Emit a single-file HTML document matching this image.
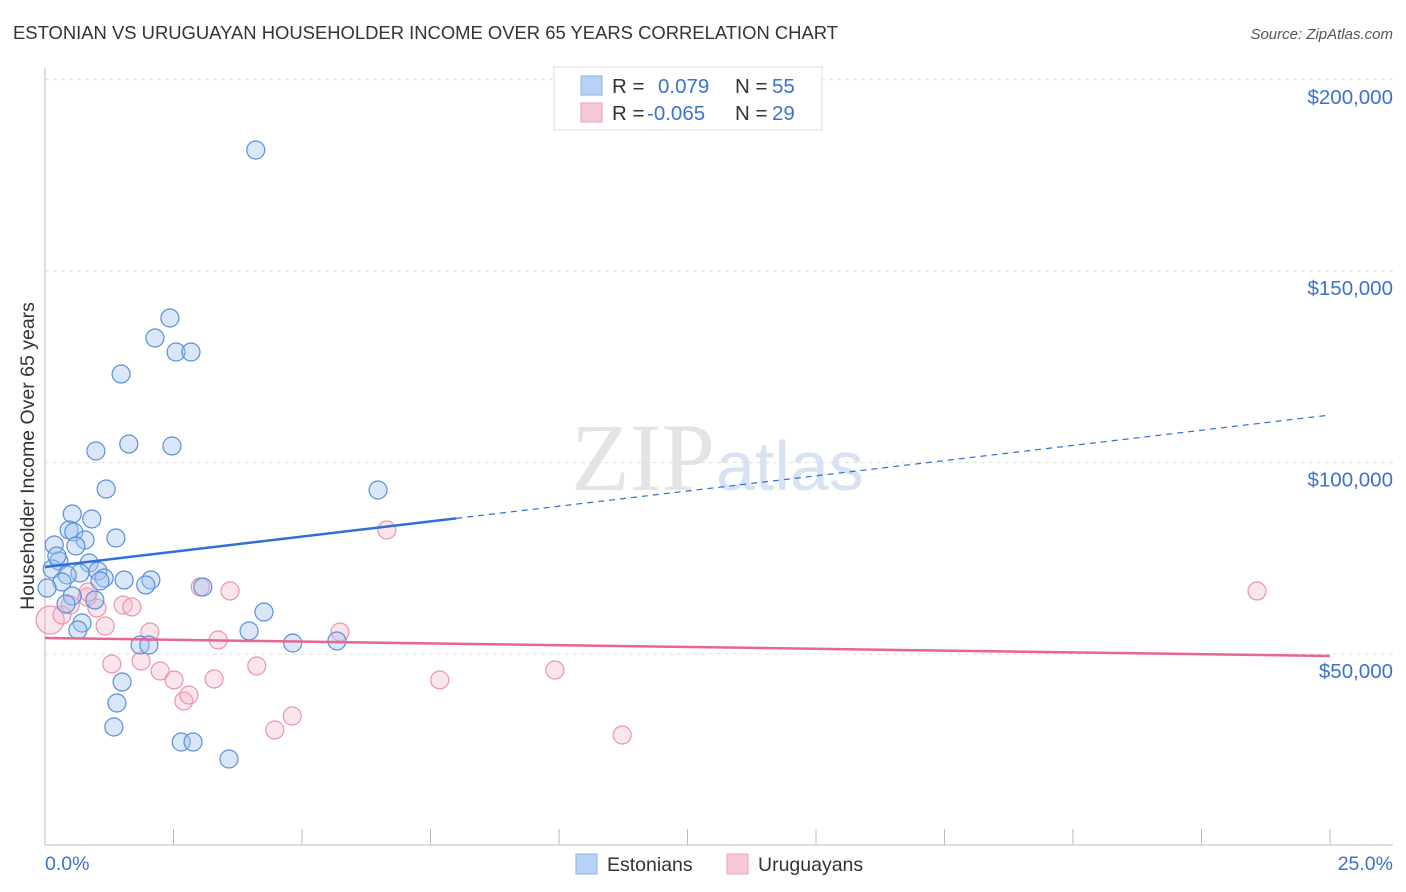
<!DOCTYPE html>
<html><head><meta charset="utf-8"><style>
body{margin:0;background:#fff;font-family:"Liberation Sans",sans-serif;}
#wrap{position:relative;width:1406px;height:892px;overflow:hidden;}
</style></head><body>
<div id="wrap">
<svg id="chart" width="1406" height="892">
<text x="13" y="39" font-size="18" fill="#333" textLength="825" lengthAdjust="spacingAndGlyphs">ESTONIAN VS URUGUAYAN HOUSEHOLDER INCOME OVER 65 YEARS CORRELATION CHART</text>
<text x="1393" y="39" font-size="15" fill="#555" font-style="italic" text-anchor="end">Source: ZipAtlas.com</text>
<text x="715" y="490" font-size="96" fill="#e4e4e4" text-anchor="end" font-family="Liberation Serif">ZIP</text>
<text x="716" y="490" font-size="70" fill="#d7e3f3">atlas</text>
<text transform="translate(34,456) rotate(-90)" font-size="19.5" fill="#333" text-anchor="middle">Householder Income Over 65 years</text>
<g id="grid"></g><g id="marks"></g>
<g>
<rect x="554" y="67" width="268" height="63" fill="#fff" stroke="#ddd"/>
<rect x="581" y="76" width="21" height="19" fill="#b8d2f5" stroke="#8ab0e8"/>
<rect x="581" y="103" width="21" height="19" fill="#f8c8d6" stroke="#f0a0b8"/>
<text y="93" font-size="20.5"><tspan x="612" fill="#333">R = </tspan><tspan x="658" fill="#3b72d1">0.079</tspan><tspan x="735" fill="#333">N = </tspan><tspan x="772" fill="#3b72d1">55</tspan></text>
<text y="120" font-size="20.5"><tspan x="612" fill="#333">R = </tspan><tspan x="647" fill="#3b72d1">-0.065</tspan><tspan x="735" fill="#333">N = </tspan><tspan x="772" fill="#3b72d1">29</tspan></text>
</g>
<g>
<rect x="576" y="854" width="21" height="20" fill="#b8d2f5" stroke="#8ab0e8"/>
<text x="607" y="871" font-size="19.5" fill="#333">Estonians</text>
<rect x="727" y="854" width="21" height="20" fill="#f8c8d6" stroke="#f0a0b8"/>
<text x="758" y="871" font-size="19.5" fill="#333">Uruguayans</text>
</g>
</svg>
</div>
<script>
const xTickLabels=["0.0%","25.0%"];
const yTicks=[50000,100000,150000,200000];
const yTickLabels=["$50,000","$100,000","$150,000","$200,000"];
const estX=[4.10,2.43,2.14,2.55,2.84,1.48,1.63,2.47,0.99,1.19,6.48,0.53,0.91,0.47,0.56,1.38,0.78,0.60,0.18,0.27,0.86,0.14,0.68,0.43,1.03,1.15,1.54,2.06,1.96,0.33,0.04,3.07,4.26,0.97,0.53,0.41,0.72,0.64,3.97,4.82,5.68,1.85,2.02,1.50,1.40,1.34,2.65,2.88,3.58,1.07,0.23];
const estY=[181660,137770,132550,128890,128890,123140,104860,104340,103030,93100,92840,86570,85270,82390,81870,80300,79780,78210,78470,74290,73770,72200,71160,70640,71680,69850,69330,69330,68030,68810,67240,67500,60970,64110,65150,63060,58100,56270,56010,52870,53400,52350,52350,42690,37200,30930,27010,27010,22570,69070,75600];
const uruX=[0.10,0.33,0.49,0.82,1.01,0.84,1.52,1.69,1.17,2.04,3.02,3.60,3.37,1.30,1.87,2.24,2.51,3.29,2.70,2.80,4.12,4.47,4.81,5.74,6.65,7.68,9.92,11.23,23.58];
const uruY=[58880,60190,62800,64890,62020,66200,62800,62280,57310,55750,67500,66460,53660,47390,48170,45560,43210,43470,37720,39290,46870,30150,33800,55750,82390,43210,45820,28840,66460];
const estTrend=[72730,112430]; const estSolidEnd=8.0;
const uruTrend=[54180,49480];
const X=v=>45+v/25*1285;
const Y=v=>654-(v-50000)*191.4/50000;
const NS="http://www.w3.org/2000/svg";
function mk(tag,attrs,parent){const e=document.createElementNS(NS,tag);for(const k in attrs)e.setAttribute(k,attrs[k]);parent.appendChild(e);return e;}
const grid=document.getElementById('grid'),marks=document.getElementById('marks');
mk('line',{x1:45,y1:68,x2:45,y2:845,stroke:'#bbb'},grid);
mk('line',{x1:45,y1:845,x2:1393,y2:845,stroke:'#bbb'},grid);
for(let i=0;i<=10;i++){const t=mk('line',{x1:X(i*2.5),y1:829,x2:X(i*2.5),y2:845,stroke:'#bbb'},grid);
}
yTicks.forEach((v,i)=>{const g=mk('line',{x1:45,y1:Y(v),x2:1393,y2:Y(v),stroke:'#ddd','stroke-dasharray':'4,4'},grid);

const t=mk('text',{x:1393,y:Y(v)+24,'font-size':20.5,fill:'#3b72d1','text-anchor':'end'},grid);t.textContent=yTickLabels[i];
});
const xl0=mk('text',{x:45,y:870,'font-size':19.5,fill:'#3b72d1'},grid);xl0.textContent=xTickLabels[0];

const xl1=mk('text',{x:1393,y:870,'font-size':19.5,fill:'#3b72d1','text-anchor':'end'},grid);xl1.textContent=xTickLabels[1];

uruX.forEach((x,i)=>{const c=mk('circle',{cx:X(x),cy:Y(uruY[i]),r:i==0?14:9,fill:'rgba(244,180,200,0.35)',stroke:'#eb93ad','stroke-width':1.2},marks);
});
estX.forEach((x,i)=>{const c=mk('circle',{cx:X(x),cy:Y(estY[i]),r:9,fill:'rgba(160,195,240,0.4)',stroke:'#5a8fda','stroke-width':1.2},marks);
});
const ey=x=>estTrend[0]+(estTrend[1]-estTrend[0])*x/25;
const l1=mk('line',{x1:X(0),y1:Y(ey(0)),x2:X(estSolidEnd),y2:Y(ey(estSolidEnd)),stroke:'#2f6fd6','stroke-width':2.5},marks);

const l2=mk('line',{x1:X(estSolidEnd),y1:Y(ey(estSolidEnd)),x2:X(25),y2:Y(ey(25)),stroke:'#2f6fd6','stroke-width':1.2,'stroke-dasharray':'6,5'},marks);

const l3=mk('line',{x1:X(0),y1:Y(uruTrend[0]),x2:X(25),y2:Y(uruTrend[1]),stroke:'#e8668f','stroke-width':2.5},marks);

</script>
</body></html>
